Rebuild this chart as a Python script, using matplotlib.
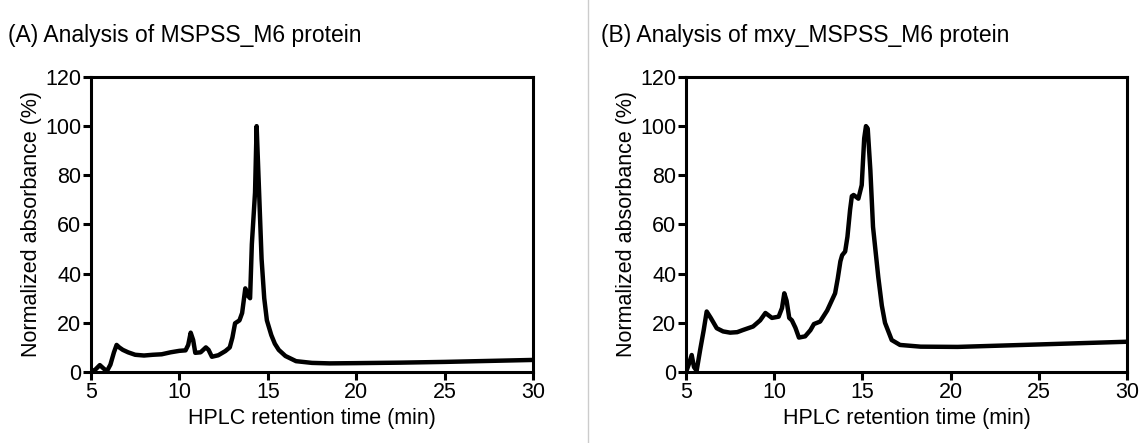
import numpy as np
import matplotlib.pyplot as plt

plt.rcParams['font.family'] = ['Liberation Sans', 'DejaVu Sans']

# panel A: MSPSS_M6
time_a = [5.0, 5.25, 5.5, 5.7, 5.9, 6.1, 6.3, 6.45, 6.6, 6.8, 7.1, 7.5, 8.0, 8.5, 9.0,
          9.5, 10.0, 10.35, 10.5, 10.64, 10.78, 10.9, 11.2, 11.5, 11.65, 11.84, 12.2,
          12.6, 12.85, 13.0, 13.15, 13.4, 13.55, 13.73, 13.88, 14.0, 14.1, 14.28,
          14.37, 14.5, 14.65, 14.8, 14.95, 15.2, 15.4, 15.62, 16.0, 16.6, 17.5, 18.5,
          20.0, 22.5, 25.0, 27.5, 30.0]
abs_a = [0.0, 1.0, 2.8, 1.5, 0.3, 3.0, 8.0, 11.0, 10.0, 9.0, 8.0, 7.0, 6.7, 7.0, 7.2,
         8.0, 8.6, 8.8, 11.0, 16.0, 13.0, 7.8, 8.0, 10.0, 9.0, 6.2, 6.8, 8.5, 10.0,
         14.0, 19.8, 21.0, 24.0, 34.0, 31.0, 30.0, 52.0, 73.0, 100.0, 75.0, 46.0,
         30.0, 21.0, 15.0, 11.5, 9.0, 6.5, 4.4, 3.7, 3.5, 3.6, 3.8, 4.1, 4.5, 4.9]

# panel B: mxy_MSPSS_M6
time_b = [5.0, 5.15, 5.32, 5.45, 5.6, 5.8, 6.0, 6.17, 6.4, 6.74, 7.1, 7.5, 7.9, 8.2,
          8.4, 8.8, 9.2, 9.5, 9.87, 10.25, 10.44, 10.57, 10.7, 10.85, 11.0, 11.2,
          11.4, 11.75, 12.05, 12.25, 12.6, 13.0, 13.45, 13.6, 13.75, 13.85, 14.02,
          14.15, 14.3, 14.4, 14.5, 14.77, 14.96, 15.1, 15.2, 15.3, 15.45, 15.6, 15.9,
          16.1, 16.28, 16.66, 17.13, 18.3, 20.4, 25.0, 30.0]
abs_b = [0.0, 3.0, 6.9, 2.0, 0.5, 9.0, 17.0, 24.6, 22.0, 17.8, 16.5, 16.0, 16.2, 17.0,
         17.5, 18.5, 21.0, 24.0, 22.0, 22.5, 26.0, 32.0, 29.0, 22.0, 21.0, 18.0, 14.0,
         14.5, 17.0, 19.5, 20.5, 25.0, 32.0, 38.0, 45.0, 47.5, 49.0, 55.0, 66.0, 71.5,
         72.0, 70.5, 76.0, 95.0, 100.0, 99.0, 82.0, 59.0, 38.5, 27.0, 20.0, 13.0, 11.0,
         10.3, 10.2, 11.2, 12.3]

titles = ['(A) Analysis of MSPSS_M6 protein', '(B) Analysis of mxy_MSPSS_M6 protein']

fig = plt.figure(figsize=(11.4, 4.43), dpi=100)
ax_a = fig.add_axes([0.0798, 0.1603, 0.3877, 0.6660])
ax_b = fig.add_axes([0.6018, 0.1603, 0.3868, 0.6660])

for ax, t, y in [(ax_a, time_a, abs_a), (ax_b, time_b, abs_b)]:
    ax.plot(t, y, color='black', lw=3.2, solid_joinstyle='round')
    ax.set_xlim(5, 30)
    ax.set_ylim(0, 120)
    ax.set_xticks([5, 10, 15, 20, 25, 30])
    ax.set_yticks([0, 20, 40, 60, 80, 100, 120])
    for s in ax.spines.values():
        s.set_linewidth(2.2)
    ax.tick_params(direction='out', length=5.5, width=2.2, labelsize=15.5, pad=1.5)
    ax.set_xlabel('HPLC retention time (min)', fontsize=15.5, labelpad=4)
    ax.set_ylabel('Normalized absorbance (%)', fontsize=15.5, labelpad=2)

fig.text(0.007, 0.92, titles[0], fontsize=16.5, va='center', ha='left')
fig.text(0.527, 0.92, titles[1], fontsize=16.5, va='center', ha='left')

# divider between panels
fig.add_artist(plt.Line2D([0.5155, 0.5155], [0.0, 1.0], color='#cccccc', lw=1.0))

fig.savefig('out.png', dpi=100)
